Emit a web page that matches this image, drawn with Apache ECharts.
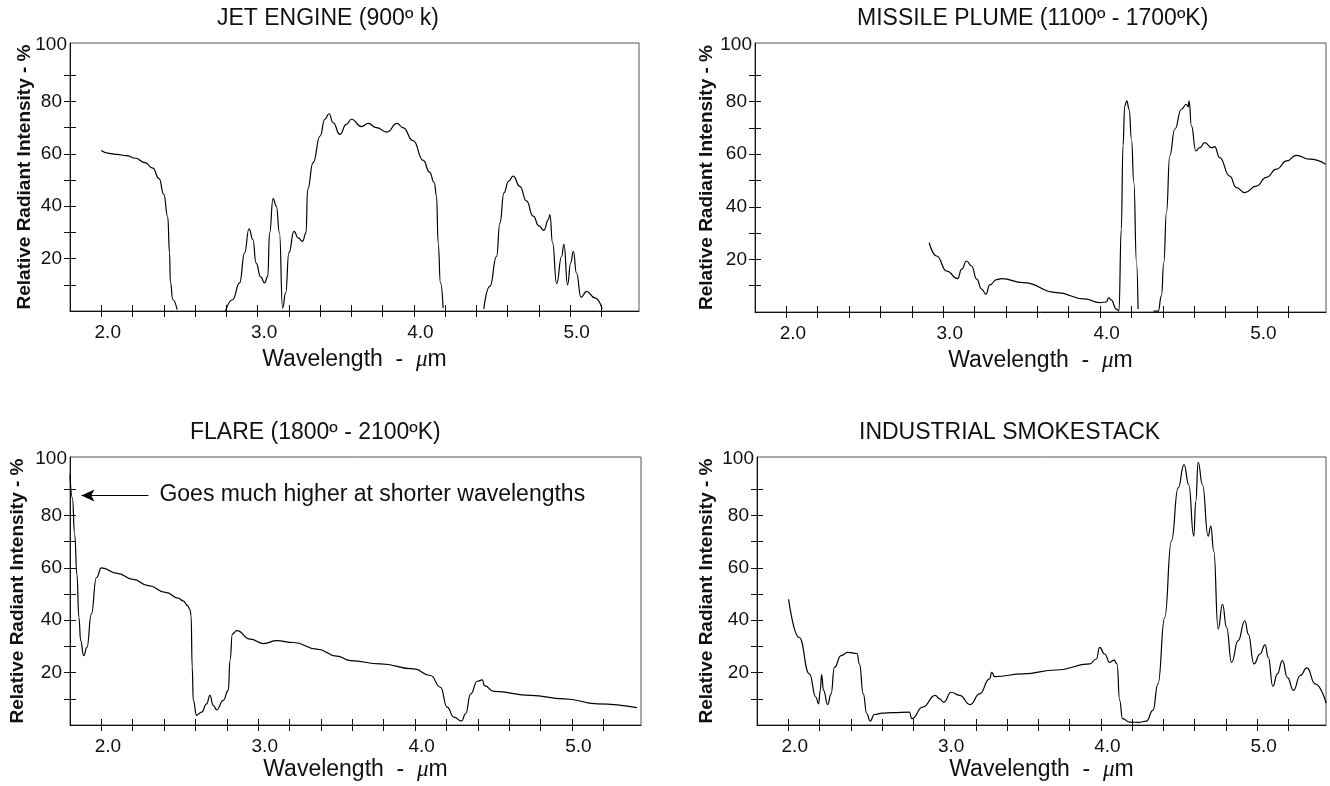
<!DOCTYPE html>
<html>
<head>
<meta charset="utf-8">
<script src="https://cdn.jsdelivr.net/npm/echarts@6/dist/echarts.min.js"></script>
<style>
html,body{margin:0;padding:0;background:#fff;}
#chart{width:1330px;height:786px;}
</style>
</head>
<body>
<div id="chart"></div>
<script>
// ---------------- DATA ----------------
const titles = [
  'JET ENGINE (900º k)',
  'MISSILE PLUME (1100º - 1700ºK)',
  'FLARE (1800º - 2100ºK)',
  'INDUSTRIAL SMOKESTACK'
];
const xTickValues = [2.0, 2.2, 2.4, 2.6, 2.8, 3.0, 3.2, 3.4, 3.6, 3.8, 4.0, 4.2, 4.4, 4.6, 4.8, 5.0, 5.2];
const xLabelValues = [2.0, 3.0, 4.0, 5.0];
const yTickValues = [10, 20, 30, 40, 50, 60, 70, 80, 90];
const yLabelValues = [20, 40, 60, 80, 100];
const annotationText = 'Goes much higher at shorter wavelengths';

// Jet engine (900 K) — null marks a gap in the trace
const jetWl = [2.00, 2.05, 2.10, 2.16, 2.22, 2.28, 2.33, 2.37, 2.40, 2.425, 2.437, 2.442, 2.458, 2.485,
  2.60,
  2.795, 2.84, 2.885, 2.917, 2.945, 2.97, 2.99, 3.02, 3.045, 3.065, 3.077, 3.099, 3.12, 3.14, 3.16, 3.18, 3.20,
  3.233, 3.26, 3.287, 3.31, 3.32, 3.355, 3.40, 3.43, 3.457, 3.483, 3.526, 3.568, 3.60, 3.665, 3.707, 3.76,
  3.828, 3.892, 3.93, 3.995, 4.06, 4.10, 4.13, 4.145, 4.155, 4.17, 4.187,
  4.30,
  4.447, 4.486, 4.529, 4.55, 4.576, 4.605, 4.635, 4.678, 4.72, 4.763, 4.80, 4.832, 4.86, 4.87, 4.887, 4.913,
  4.945, 4.96, 4.983, 5.003, 5.02, 5.04, 5.069, 5.105, 5.158, 5.205];
const jetVal = [61.3, 60.2, 59.8, 59.3, 58.3, 56.6, 54.5, 50.5, 44.5, 36, 22, 11, 4.3, 0.5,
  null,
  0, 4.3, 10.7, 22.2, 31.4, 27.3, 18.4, 13, 10.7, 13.2, 29.8, 42.9, 40, 29.8, 1.1, 6.9, 22.2,
  30.4, 27.9, 26.6, 29.8, 46.4, 56.6, 66.8, 73.2, 75.3, 71.9, 67.4, 71.2, 73.2, 70.4, 71.6, 70,
  68.3, 71.6, 70, 65, 57.5, 53, 49, 43.8, 26, 10.7, 1.1,
  null,
  0.8, 9.4, 20.9, 33.6, 45.1, 49.5, 51.5, 47.6, 42, 36.2, 32.5, 30.8, 34.9, 36.8, 26, 10.4,
  20.9, 25.4, 10, 18.4, 22.8, 14.5, 5.2, 7.5, 5, 0.8];

// Missile plume (1100-1700 K)
const plumeWl = [2.91, 2.958, 3.022, 3.092, 3.117, 3.149, 3.181, 3.213, 3.245, 3.272, 3.297, 3.34, 3.372,
  3.51, 3.722, 3.90, 3.998, 4.04, 4.055, 4.07, 4.104, 4.12, 4.135, 4.146, 4.157, 4.17, 4.185, 4.20, 4.215,
  4.232, 4.242,
  4.29,
  4.34, 4.37, 4.391, 4.406, 4.423, 4.444, 4.476, 4.518, 4.55, 4.562, 4.567, 4.582, 4.61, 4.635, 4.667,
  4.71, 4.73, 4.762, 4.826, 4.869, 4.922, 4.996, 5.06, 5.124, 5.19, 5.25, 5.335, 5.437];
const plumeVal = [26.4, 21.3, 15.6, 12.7, 16.3, 19.4, 17.5, 12.5, 8.7, 6.8, 10.3, 12.3, 12.7,
  11.2, 7.4, 5, 3.6, 3.8, 5.5, 4.6, 1.1, 0.4, 31.5, 63.2, 78.4, 80.3, 77.1, 65.7, 49.2,
  18.8, 1.1,
  null,
  0.3, 0.3, 6.1, 18.8, 37.8, 59.4, 69.5, 77.1, 79, 78, 80.3, 70.8, 61.3, 62.5, 64.4,
  62.5, 62.9, 58.7, 51.7, 47.3, 45.4, 47.9, 51.2, 54.3, 57.5, 59.6, 58.1, 56.2];

// Flare (1800-2100 K)
const flareWl = [1.80, 1.815, 1.83, 1.844, 1.857, 1.868, 1.887, 1.908, 1.936, 1.968, 2.0, 2.10, 2.202, 2.30,
  2.415, 2.49, 2.521, 2.55, 2.565, 2.572, 2.579, 2.586, 2.607, 2.639, 2.671, 2.692, 2.713, 2.735, 2.777,
  2.809, 2.82, 2.835, 2.863, 2.948, 3.033, 3.118, 3.224, 3.374, 3.50, 3.587, 3.778, 3.991, 4.098, 4.162,
  4.204, 4.247, 4.296, 4.322, 4.354, 4.396, 4.428, 4.443, 4.502, 4.737, 4.95, 5.163, 5.414];
const flareVal = [95.5, 86.7, 72.7, 57.5, 41, 32.2, 26.5, 29.6, 42.3, 56.2, 60, 57.9, 55.6, 53.2,
  50.5, 48.4, 47.4, 45.6, 44, 41.7, 22, 9.4, 3.7, 4.9, 8.1, 11.3, 7.5, 5.8, 9.4,
  13.2, 24.6, 34.7, 36, 32.8, 31.1, 32.2, 31.5, 29, 26.3, 24.6, 23.3, 21.4, 18.9, 14.4,
  6.8, 3, 1.5, 4.3, 11.9, 16.7, 17.2, 15, 12.8, 11.3, 10, 8.1, 6.6];

// Industrial smokestack
const stackWl = [2.002, 2.07, 2.135, 2.177, 2.194, 2.205, 2.213, 2.226, 2.252, 2.274, 2.295, 2.338, 2.38,
  2.44, 2.455, 2.48, 2.502, 2.524, 2.551, 2.60, 2.668, 2.775, 2.79, 2.86, 2.94, 2.968, 2.995, 3.042, 3.096,
  3.164, 3.224, 3.288, 3.302, 3.32, 3.501, 3.715, 3.928, 3.971, 3.992, 4.024, 4.056, 4.084, 4.103, 4.12,
  4.138, 4.185, 4.24, 4.291, 4.333, 4.365, 4.408, 4.451, 4.494, 4.532, 4.562, 4.594, 4.607, 4.622, 4.65,
  4.686, 4.703, 4.722, 4.75, 4.778, 4.804, 4.836, 4.878, 4.921, 4.943, 4.979, 5.018, 5.05, 5.071, 5.10,
  5.129, 5.161, 5.193, 5.232, 5.275, 5.318, 5.371, 5.441];
const stackVal = [48, 33.4, 19.5, 10.6, 8.1, 13.2, 19.2, 13.2, 7.8, 11.9, 22, 26.5, 27.7,
  27.3, 23.3, 11.9, 4.3, 1.5, 4, 4.5, 4.7, 4.9, 2.4, 6.8, 11.3, 10, 8.7, 12.5, 11.3,
  7.8, 11.9, 17.6, 20.1, 18.5, 19.5, 21, 23.3, 25.2, 29.6, 27.1, 23.9, 24.8, 23.3, 9.4,
  2.4, 1.1, 1, 1.5, 5.6, 15.7, 41, 70.2, 90.5, 99.4, 91.7, 72.1, 85.4, 100.3, 91.7,
  72.1, 75.9, 66.4, 36.6, 46.1, 37.2, 23.9, 32.2, 39.8, 34.7, 23.3, 27.1, 30.6, 25.8, 14.7,
  19.5, 24.6, 18.2, 13.2, 18.9, 21.8, 15.7, 8.3];

// annotation anchor (wavelength, intensity) in the flare panel
const arrowTail = [2.30, 87.6];
const arrowTip = [1.873, 87.6];

// ---------------- LAYOUT / STYLE ----------------
const FONT = "'Liberation Sans', Arial, Helvetica, sans-serif";
const X_MIN = 1.8, X_MAX = 5.44, Y_MIN = 0, Y_MAX = 102.3;
const panels = [
  {left: 70,  top: 43,  width: 569, height: 268, titleLeft: 217, titleTop: 7,   yGap: 36, xGap: 37},
  {left: 755, top: 43,  width: 571, height: 269, titleLeft: 857, titleTop: 7,   yGap: 39, xGap: 37},
  {left: 70,  top: 457, width: 571, height: 268, titleLeft: 190, titleTop: 421, yGap: 43, xGap: 33},
  {left: 757, top: 457, width: 569, height: 268, titleLeft: 859, titleTop: 421, yGap: 41, xGap: 33}
];
const seriesData = [
  [jetWl, jetVal], [plumeWl, plumeVal], [flareWl, flareVal], [stackWl, stackVal]
];
const zip = (w, v) => w.map((x, i) => [x, v[i]]);

const grid = [], xAxis = [], yAxis = [], series = [], title = [];
panels.forEach((p, i) => {
  grid.push({left: p.left, top: p.top, width: p.width, height: p.height,
    show: true, borderColor: '#555', borderWidth: 1, backgroundColor: 'transparent'});
  title.push({text: titles[i], left: p.titleLeft, top: p.titleTop, padding: 0,
    textStyle: {fontFamily: FONT, fontSize: 23, fontWeight: 'normal', color: '#111'}});
  xAxis.push({type: 'value', gridIndex: i, position: 'bottom', min: X_MIN, max: X_MAX,
    axisLine: {show: true, onZero: false, lineStyle: {color: '#111', width: 1}},
    axisTick: {show: true, customValues: xTickValues, length: 6, lineStyle: {color: '#111', width: 1}},
    axisLabel: {show: true, customValues: xLabelValues, formatter: v => v.toFixed(1),
      fontFamily: FONT, fontSize: 19, color: '#111', margin: 12, padding: [0, 0, 0, 13]},
    splitLine: {show: false},
    name: 'Wavelength  -  {mu|μ}m', nameLocation: 'middle', nameGap: p.xGap,
    nameTextStyle: {fontFamily: FONT, fontSize: 23, color: '#111',
      rich: {mu: {fontFamily: "'Liberation Serif', 'DejaVu Serif', serif", fontStyle: 'italic', fontSize: 23, color: '#111'}}}
  });
  xAxis.push({type: 'value', gridIndex: i, position: 'top', offset: -p.height, min: X_MIN, max: X_MAX,
    axisLine: {show: false, onZero: false},
    axisTick: {show: true, customValues: xTickValues, length: 6, lineStyle: {color: '#111', width: 1}},
    axisLabel: {show: false}, splitLine: {show: false}});
  yAxis.push({type: 'value', gridIndex: i, position: 'left', min: Y_MIN, max: Y_MAX,
    axisLine: {show: true, onZero: false, lineStyle: {color: '#111', width: 1}},
    axisTick: {show: true, customValues: yTickValues, length: 6, lineStyle: {color: '#111', width: 1}},
    axisLabel: {show: true, customValues: yLabelValues, margin: 3,
      formatter: v => (v === 100 ? '{t|' + v + '}' : '{n|' + v + '}'),
      rich: {
        t: {fontFamily: FONT, fontSize: 19, color: '#111', padding: [0, 0, 8, 0]},
        n: {fontFamily: FONT, fontSize: 19, color: '#111', padding: [0, 5, 0, 0]}
      }},
    splitLine: {show: false},
    name: 'Relative Radiant Intensity - %', nameLocation: 'middle', nameGap: p.yGap,
    nameMoveOverlap: false,
    nameTextStyle: {fontFamily: FONT, fontSize: 19, fontWeight: 'bold', color: '#111'}
  });
  yAxis.push({type: 'value', gridIndex: i, position: 'right', offset: -p.width, min: Y_MIN, max: Y_MAX,
    axisLine: {show: false, onZero: false},
    axisTick: {show: true, customValues: yTickValues, length: 6, lineStyle: {color: '#111', width: 1}},
    axisLabel: {show: false}, splitLine: {show: false}});

  const s = {
    type: 'line', xAxisIndex: 2 * i, yAxisIndex: 2 * i,
    data: zip(seriesData[i][0], seriesData[i][1]),
    showSymbol: false, symbol: 'none', smooth: 0.5, smoothMonotone: 'x',
    connectNulls: false, clip: true, silent: true,
    lineStyle: {color: '#000', width: 1.2}
  };
  if (i === 2) {
    s.markLine = {
      silent: true, symbol: ['none', 'arrow'], symbolSize: [9, 13],
      label: {show: false},
      lineStyle: {color: '#000', width: 1, type: 'solid'},
      data: [[{coord: arrowTail}, {coord: arrowTip}]]
    };
  }
  series.push(s);
});

const chart = echarts.init(document.getElementById('chart'), null, {renderer: 'canvas'});
chart.setOption({
  animation: false,
  backgroundColor: '#fff',
  title, grid, xAxis, yAxis, series
});

const tailPx = chart.convertToPixel({xAxisIndex: 4, yAxisIndex: 4}, arrowTail);
chart.setOption({
  graphic: [{
    type: 'text', left: tailPx[0] + 11, top: tailPx[1] - 12, silent: true,
    style: {text: annotationText, fontFamily: FONT, fontSize: 23, fill: '#111'}
  }]
});
</script>
</body>
</html>
